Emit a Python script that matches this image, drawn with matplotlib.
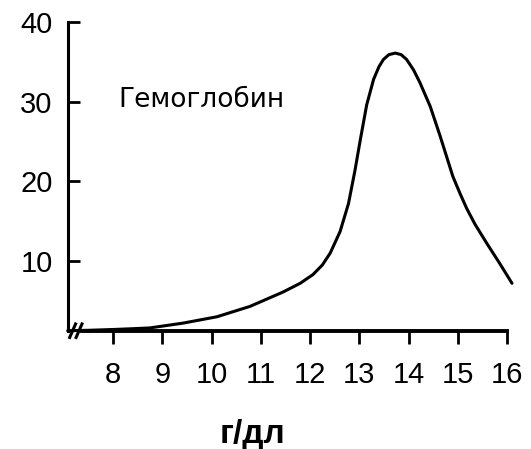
import matplotlib
matplotlib.use("Agg")
import matplotlib.pyplot as plt

# Data
x_vals = [7.08, 7.5, 8.0, 8.4, 8.75, 9.42, 10.11, 10.78, 11.45, 11.80, 12.06, 12.25,
          12.41, 12.61, 12.78, 12.91, 13.02, 13.15, 13.29, 13.40, 13.49, 13.60, 13.73,
          13.85, 13.96, 14.10, 14.23, 14.44, 14.64, 14.90, 15.05, 15.18, 15.35, 15.59,
          15.85, 16.10]
y_vals = [1.25, 1.3, 1.4, 1.5, 1.6, 2.2, 3.0, 4.3, 6.1, 7.2, 8.3, 9.5,
          11.0, 13.7, 17.2, 21.3, 25.2, 29.6, 32.8, 34.4, 35.3, 35.9, 36.1,
          35.9, 35.3, 34.0, 32.4, 29.4, 25.7, 20.6, 18.4, 16.6, 14.6, 12.2,
          9.7, 7.2]
x_ticks = [8, 9, 10, 11, 12, 13, 14, 15, 16]
y_ticks = [10, 20, 30, 40]
label_text = "Гемоглобин"
x_label = "г/дл"

plt.rcParams['font.family'] = ['Liberation Sans', 'DejaVu Sans']

W, H = 531, 449
fig = plt.figure(figsize=(W / 100, H / 100), dpi=100)
ax = fig.add_axes([68 / W, 1 - 330.7 / H, (512 - 68) / W, (330.7 - 22) / H])
ax.set_xlim(7.086, 16.1)
ax.set_ylim(1.25, 40)

ax.plot(x_vals, y_vals, color='black', lw=2.2, solid_capstyle='round',
        solid_joinstyle='round', clip_on=False)

for s in ['top', 'right']:
    ax.spines[s].set_visible(False)
ax.spines['left'].set_linewidth(2.2)
ax.spines['bottom'].set_linewidth(2.8)
ax.spines['left'].set_bounds(1.25, 40)
ax.spines['bottom'].set_bounds(7.38, 16)

ax.set_xticks(x_ticks)
ax.set_yticks(y_ticks)
ax.tick_params(axis='y', direction='in', length=8.6, width=2, labelsize=21, pad=11)
ax.tick_params(axis='x', direction='out', length=9.5, width=2, labelsize=21, pad=12)

# axis break marks
for dx in (0.0, 0.13):
    ax.plot([7.12 + dx, 7.24 + dx], [0.4, 2.1], color='black', lw=2.2, clip_on=False)

ax.text(8.1, 30.2, label_text, fontsize=19, va='center', ha='left', family='DejaVu Sans')
fig.text(253 / W, 1 - 435 / H, x_label, fontsize=24, fontweight='bold', ha='center', va='center')

fig.savefig('out.png', dpi=100)
